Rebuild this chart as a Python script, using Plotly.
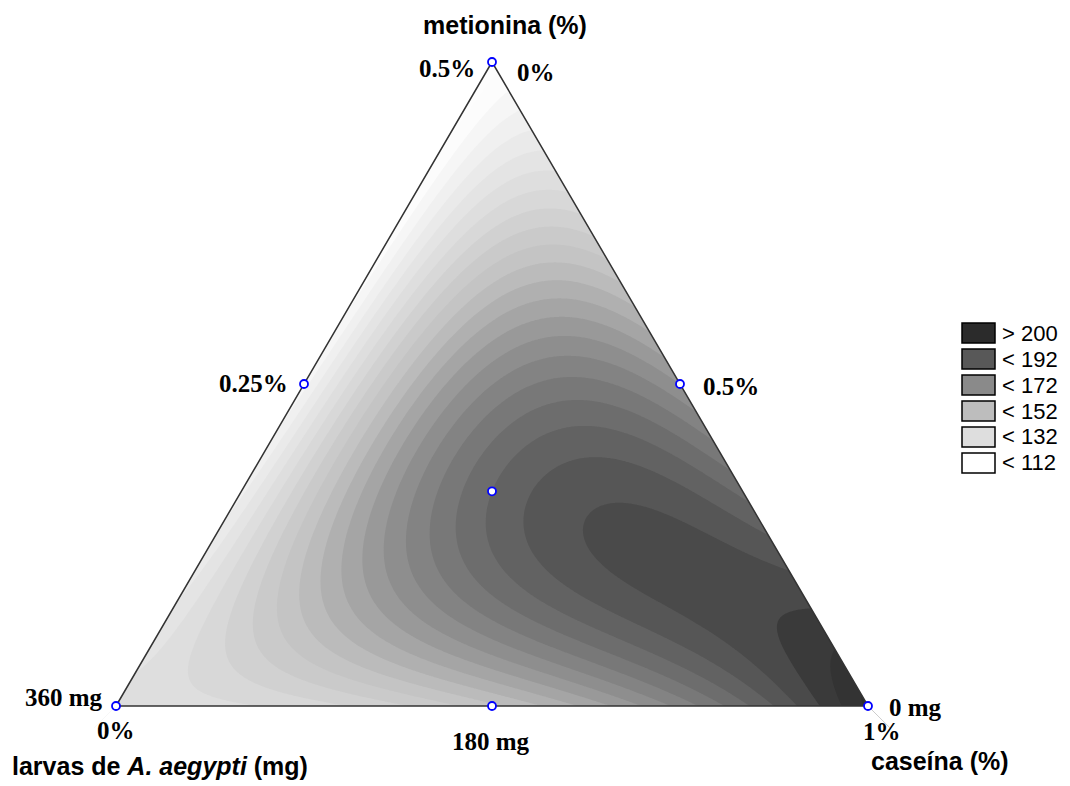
import numpy as np
import plotly.graph_objects as go

# Simplex-centroid mixture design: proportions of each component
metionina = [1.0, 0.0, 0.0, 0.5, 0.5, 0.0, 1 / 3]
larvas = [0.0, 1.0, 0.0, 0.5, 0.0, 0.5, 1 / 3]
caseina = [0.0, 0.0, 1.0, 0.0, 0.5, 0.5, 1 / 3]
resposta = [110, 134, 205, 118, 168, 151, 184]

# Contour levels and legend entries
nivel_ini, nivel_fim, nivel_passo = 108, 208, 4
legenda_txt = ["> 200", "< 192", "< 172", "< 152", "< 132", "< 112"]
legenda_cor = ["#2b2b2b", "#585858", "#8a8a8a", "#bdbdbd", "#dedede", "#ffffff"]

W, H = 1070, 786
S3 = np.sqrt(3) / 2


def to_xy(a, c):
    """metionina at the top, larvas bottom-left, caseína bottom-right."""
    a = np.asarray(a, float)
    c = np.asarray(c, float)
    return c + a / 2, a * S3


# Scheffé special cubic model fitted through the design points
def termos(a, b, c):
    return np.stack([a, b, c, a * b, a * c, b * c, a * b * c], axis=-1)


A = termos(np.array(metionina), np.array(larvas), np.array(caseina))
coef = np.linalg.lstsq(A, np.array(resposta, float), rcond=None)[0]

gx = np.linspace(-0.03, 1.03, 640)
gy = np.linspace(-0.03, 0.90, 560)
U, V = np.meshgrid(gx, gy)
ga = V / S3
gc = U - ga / 2
gb = 1 - ga - gc
Z = termos(ga, gb, gc) @ coef

# grey ramp for the response
zmin, zmax = 104, 212
knots = [104, 112, 132, 152, 172, 188, 192, 196, 200, 212]
greys = [255, 252, 224, 192, 138, 96, 84, 72, 56, 40]
cscale = [[(k - zmin) / (zmax - zmin), f"rgb({g},{g},{g})"] for k, g in zip(knots, greys)]

fig = go.Figure()
fig.add_trace(go.Contour(
    x=gx, y=gy, z=Z,
    zmin=zmin, zmax=zmax, zauto=False,
    colorscale=cscale, showscale=False,
    contours=dict(start=nivel_ini, end=nivel_fim, size=nivel_passo, coloring="fill", showlines=False),
    line=dict(width=0),
    hoverinfo="skip",
))

# white masks outside the simplex
top = (0.5, S3)
masks = [
    [(-0.2, -0.2), (0, 0), top, (0.5, 1.2), (-0.2, 1.2)],
    [(0.5, 1.2), top, (1, 0), (1.2, -0.2), (1.2, 1.2)],
    [(-0.2, -0.2), (1.2, -0.2), (1, 0), (0, 0)],
]
for m in masks:
    xs, ys = zip(*m)
    fig.add_trace(go.Scatter(x=list(xs) + [xs[0]], y=list(ys) + [ys[0]], mode="lines",
                             fill="toself", fillcolor="white", line=dict(width=0),
                             hoverinfo="skip", showlegend=False))

# simplex outline through the pure-component points
vx, vy = to_xy(metionina[:3] + [metionina[0]], caseina[:3] + [caseina[0]])
fig.add_trace(go.Scatter(x=vx, y=vy, mode="lines", line=dict(color="#333333", width=1.5),
                         hoverinfo="skip", showlegend=False))

# design points
px_, py_ = to_xy(metionina, caseina)
fig.add_trace(go.Scatter(x=px_, y=py_, mode="markers",
                         marker=dict(symbol="circle", size=8, color="white",
                                     line=dict(color="#0000ff", width=1.8)),
                         showlegend=False, hoverinfo="skip"))

# axis ranges place the unit simplex on the page
xs_scale = 752.0
ys_scale = 644.0 / S3
x0_px, y0_px = 116.0, 706.0
xr = [-x0_px / xs_scale, (W - x0_px) / xs_scale]
yr = [-(H - y0_px) / ys_scale, y0_px / ys_scale]


def P(x, y):
    return x / W, 1 - y / H


ann = []
sans = "Liberation Sans, Arial, sans-serif"
serif = "Liberation Serif, Times New Roman, serif"


def txt(x, y, s, fam, size, bold=True, xanchor="center"):
    xx, yy = P(x, y)
    ann.append(dict(x=xx, y=yy, xref="paper", yref="paper", text=(f"<b>{s}</b>" if bold else s),
                    showarrow=False, xanchor=xanchor, yanchor="middle",
                    font=dict(family=fam, size=size, color="black")))


txt(505, 25, "metionina (%)", sans, 25)
txt(160, 766, "larvas de <i>A. aegypti</i> (mg)", sans, 25)
txt(940, 761, "caseína (%)", sans, 25)

txt(447, 68, "0.5%", serif, 25)
txt(536, 72, "0%", serif, 25)
txt(253, 384, "0.25%", serif, 25)
txt(731, 386, "0.5%", serif, 25)
txt(64, 697, "360 mg", serif, 25)
txt(116, 730, "0%", serif, 25)
txt(491, 741, "180 mg", serif, 25)
txt(915, 707, "0 mg", serif, 25)
txt(882, 731, "1%", serif, 25)

shapes = []
for i, (lab, col) in enumerate(zip(legenda_txt, legenda_cor)):
    top_px = 323 + i * 26
    x0, y0 = P(962, top_px)
    x1, y1 = P(995, top_px + 20)
    shapes.append(dict(type="rect", xref="paper", yref="paper", x0=x0, x1=x1, y0=y1, y1=y0,
                       fillcolor=col, line=dict(color="black", width=1.5), layer="above"))
    txt(1000, top_px + 10, lab, sans, 22, bold=False, xanchor="left")

fig.update_layout(
    width=W, height=H,
    margin=dict(l=0, r=0, t=0, b=0),
    paper_bgcolor="white", plot_bgcolor="white",
    xaxis=dict(range=xr, visible=False, showgrid=False, zeroline=False, domain=[0, 1]),
    yaxis=dict(range=yr, visible=False, showgrid=False, zeroline=False, domain=[0, 1]),
    annotations=ann, shapes=shapes, showlegend=False,
)

fig.write_html("out.html")
